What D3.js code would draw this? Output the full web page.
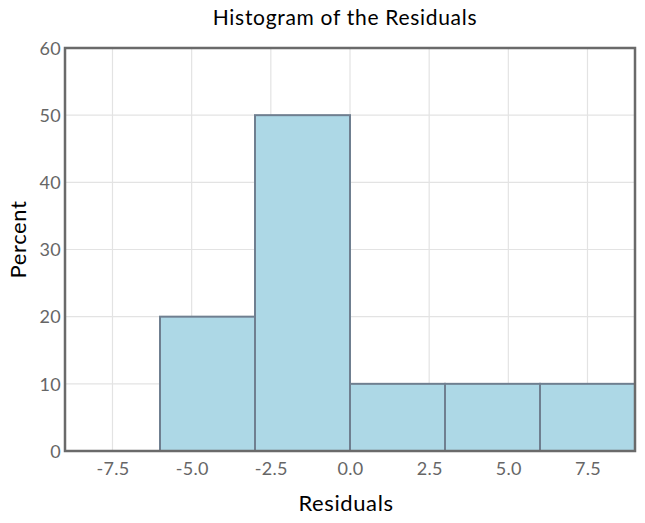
<!DOCTYPE html>
<html>
<head>
<meta charset="utf-8">
<script src="https://cdn.jsdelivr.net/npm/d3@7"></script>
<style>
  body { margin: 0; background: #fff; }
  svg text { font-family: "Lato", "Noto Sans", sans-serif; }
  .tick text { fill: #666; font-size: 18px; letter-spacing: 0.3px; }
  .label { fill: #000; font-size: 22px; letter-spacing: 0.6px; }
  .title { fill: #000; font-size: 21px; letter-spacing: 0.7px; }
</style>
</head>
<body>
<div class="chart"></div>
<script>
// data
var binStarts = [-9, -6, -3, 0, 3, 6];
var binWidth = 3;
var percents = [0, 20, 50, 10, 10, 10];
var xTicks = [-7.5, -5.0, -2.5, 0.0, 2.5, 5.0, 7.5];
var yTicks = [0, 10, 20, 30, 40, 50, 60];

// dimensions
var margin = {top: 48, right: 10, bottom: 72, left: 65};
var width = 645 - margin.left - margin.right;
var height = 523 - margin.top - margin.bottom;

var x = d3.scaleLinear().domain([-9, 9]).range([0, width]);
var y = d3.scaleLinear().domain([0, 60]).range([height, 0]);

var fmt = function(d) { return d3.format(".1f")(d).replace("\u2212", "-"); };

var svg = d3.select(".chart")
  .append("svg")
  .attr("width", 645)
  .attr("height", 523);

var chart = svg.append("g")
  .attr("transform", "translate(" + margin.left + "," + margin.top + ")");

// grid
chart.selectAll(".vgrid")
  .data(xTicks)
  .enter().append("line")
  .attr("x1", function(d) { return x(d); })
  .attr("x2", function(d) { return x(d); })
  .attr("y1", 0).attr("y2", height)
  .attr("stroke", "#e3e3e3").attr("stroke-width", 1.2);
chart.selectAll(".hgrid")
  .data(yTicks.slice(1, -1))
  .enter().append("line")
  .attr("x1", 0).attr("x2", width)
  .attr("y1", function(d) { return y(d); })
  .attr("y2", function(d) { return y(d); })
  .attr("stroke", "#e3e3e3").attr("stroke-width", 1.2);

// bars
chart.selectAll(".bar")
  .data(binStarts)
  .enter().append("rect")
  .attr("class", "bar")
  .attr("x", function(d) { return x(d); })
  .attr("y", function(d, i) { return y(percents[i]); })
  .attr("width", x(binWidth) - x(0))
  .attr("height", function(d, i) { return height - y(percents[i]); })
  .attr("fill", "#add8e6")
  .attr("stroke", "#6f7f90")
  .attr("stroke-width", 2);

// frame
chart.append("rect")
  .attr("width", width).attr("height", height)
  .attr("fill", "none")
  .attr("stroke", "#6a6a6a")
  .attr("stroke-width", 2.5);

// axes
var xAxis = chart.append("g")
  .attr("transform", "translate(0," + height + ")")
  .call(d3.axisBottom(x).tickValues(xTicks).tickFormat(fmt).tickSize(0).tickPadding(11));
var yAxis = chart.append("g")
  .call(d3.axisLeft(y).tickValues(yTicks).tickSize(0).tickPadding(4));
xAxis.select(".domain").remove();
yAxis.select(".domain").remove();
yAxis.selectAll(".tick text").attr("dy", "0.35em").attr("letter-spacing", "-0.5px");

// x label
svg.append("text")
  .attr("class", "label")
  .attr("x", 346).attr("y", 511)
  .attr("text-anchor", "middle")
  .text("Residuals");

// y label
svg.append("text")
  .attr("class", "label")
  .attr("transform", "translate(26," + (margin.top + height / 2 - 10) + ") rotate(-90)")
  .attr("text-anchor", "middle")
  .text("Percent");

// title
svg.append("text")
  .attr("class", "title")
  .attr("x", 345).attr("y", 25)
  .attr("text-anchor", "middle")
  .text("Histogram of the Residuals");
</script>
</body>
</html>
